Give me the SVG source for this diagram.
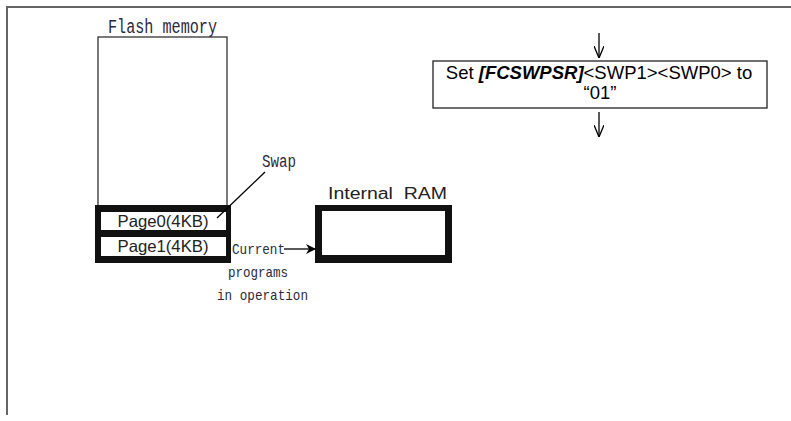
<svg xmlns="http://www.w3.org/2000/svg" width="791" height="421" viewBox="0 0 791 421">
<defs>
<style>
.frame{fill:none;stroke:#666;stroke-width:2}
.thin{fill:none;stroke:#333;stroke-width:1.3}
.mono{font-family:"Liberation Mono","DejaVu Sans Mono",monospace;fill:#2a2a3a}
.sans{font-family:"Liberation Sans",Arial,sans-serif;fill:#222}
.lbl{font-family:"Liberation Sans",Arial,sans-serif;fill:#000}
.conn{stroke:#000;stroke-width:1.3;fill:none}
</style>
<marker id="ah" viewBox="0 0 10 10" refX="10" refY="5" markerWidth="10" markerHeight="10" markerUnits="userSpaceOnUse" orient="auto">
<path d="M0,0 L10,5 L0,10 L3,5 Z" fill="#000"/>
</marker>
<marker id="va" viewBox="0 0 12 10" refX="12" refY="5" markerWidth="12" markerHeight="10" markerUnits="userSpaceOnUse" orient="auto">
<path d="M0,0 L12,5 L0,10" fill="none" stroke="#000" stroke-width="1.3"/>
</marker>
</defs>
<rect width="791" height="421" fill="#fff"/>
<path class="frame" d="M7,415 V7 H791"/>

<g id="flash">
<text class="mono" x="108" y="33" font-size="20" textLength="109" lengthAdjust="spacingAndGlyphs">Flash memory</text>
<rect class="thin" x="98" y="37" width="129" height="170"/>
</g>

<g id="pages">
<rect x="95" y="205" width="136" height="58" fill="#111"/>
<rect x="101" y="212" width="125" height="18" fill="#fff"/>
<rect x="101" y="237" width="125" height="19" fill="#fff"/>
<text class="sans" x="163" y="227" font-size="16.5" text-anchor="middle" textLength="91" lengthAdjust="spacingAndGlyphs">Page0(4KB)</text>
<text class="sans" x="163" y="252" font-size="16.5" text-anchor="middle" textLength="91" lengthAdjust="spacingAndGlyphs">Page1(4KB)</text>
</g>

<g id="swap">
<text class="mono" x="262" y="167" font-size="19" textLength="34" lengthAdjust="spacingAndGlyphs">Swap</text>
</g>

<g id="ram">
<text class="sans" x="328" y="199" font-size="16" textLength="119" lengthAdjust="spacingAndGlyphs" xml:space="preserve">Internal  RAM</text>
<rect x="315" y="205" width="137" height="58" fill="#111"/>
<rect x="322" y="211" width="123" height="44" fill="#fff"/>
</g>

<g id="current">
<text class="mono" x="232" y="254" font-size="15" textLength="53" lengthAdjust="spacingAndGlyphs">Current</text>
<text class="mono" x="228" y="277" font-size="15" textLength="60" lengthAdjust="spacingAndGlyphs">programs</text>
<text class="mono" x="217" y="300" font-size="15" textLength="91" lengthAdjust="spacingAndGlyphs">in operation</text>
</g>

<g id="step">
<rect x="433" y="61" width="334" height="47" fill="#fff" stroke="#222" stroke-width="1.3"/>
<text class="lbl" x="599" y="79" font-size="18.5" text-anchor="middle">Set <tspan font-weight="bold" font-style="italic">[FCSWPSR]</tspan>&lt;SWP1&gt;&lt;SWP0&gt; to</text>
<text class="lbl" x="600" y="99" font-size="18.5" text-anchor="middle">“01”</text>
</g>

<g id="connectors">
<line class="conn" x1="265" y1="172" x2="217" y2="218"/>
<line class="conn" x1="284" y1="249" x2="316" y2="249" marker-end="url(#ah)"/>
<line class="conn" x1="599" y1="33" x2="599" y2="58" marker-end="url(#va)"/>
<line class="conn" x1="599" y1="112" x2="599" y2="137" marker-end="url(#va)"/>
</g>
</svg>
